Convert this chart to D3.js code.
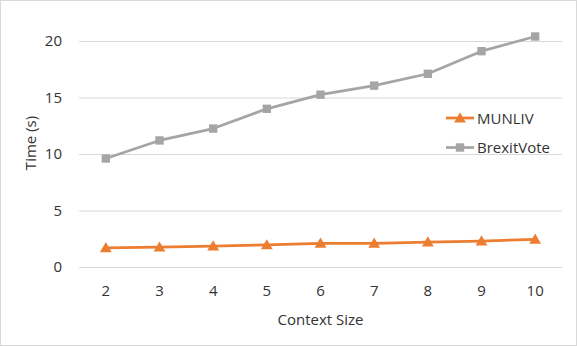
<!DOCTYPE html>
<html>
<head>
<meta charset="utf-8">
<script src="https://cdn.jsdelivr.net/npm/d3@7.9.0/dist/d3.min.js"></script>
<style>
  body { margin: 0; background: #fff; }
  svg { display: block; font-family: "Open Sans", "Noto Sans", sans-serif; }
</style>
</head>
<body>
<svg id="chart" width="577" height="346"></svg>
<script>
const contextSizes = [2, 3, 4, 5, 6, 7, 8, 9, 10];
const munliv = [1.7, 1.75, 1.85, 1.95, 2.1, 2.1, 2.2, 2.3, 2.45];
const brexitVote = [9.6, 11.2, 12.25, 14.0, 15.25, 16.05, 17.1, 19.1, 20.4];
const yTicks = [0, 5, 10, 15, 20];

const series = [
  { name: 'MUNLIV', values: munliv, color: '#ED7D31', marker: 'triangle' },
  { name: 'BrexitVote', values: brexitVote, color: '#A5A5A5', marker: 'square' }
];

const W = 577, H = 346;
const m = { left: 79, right: 15, top: 41, bottom: 79 };
const textColor = '#333';
const svg = d3.select('#chart');

svg.append('rect')
  .attr('x', 0.5).attr('y', 0.5)
  .attr('width', W - 1).attr('height', H - 1)
  .attr('fill', '#fff').attr('stroke', '#D9D9D9');

const x = d3.scaleBand()
  .domain(contextSizes)
  .range([m.left, W - m.right]);

const y = d3.scaleLinear()
  .domain([0, 20])
  .range([H - m.bottom, m.top]);

// gridlines + y labels
const yAxis = svg.append('g')
  .attr('transform', `translate(${m.left},0)`)
  .call(d3.axisLeft(y).tickValues(yTicks).tickSize(-(W - m.left - m.right)).tickPadding(17));
yAxis.select('.domain').remove();
yAxis.selectAll('.tick line').attr('stroke', '#D9D9D9').attr('stroke-width', 1);
yAxis.selectAll('.tick text').attr('fill', textColor).style('font-size', '15px')
  .style('font-family', '"Open Sans", sans-serif');

const xAxis = svg.append('g')
  .attr('transform', `translate(0,${H - m.bottom})`)
  .call(d3.axisBottom(x).tickSize(0).tickPadding(18));
xAxis.select('.domain').remove();
xAxis.selectAll('.tick text').attr('fill', textColor).style('font-size', '15px')
  .style('font-family', '"Open Sans", sans-serif');

// axis titles
svg.append('text')
  .attr('x', (m.left + W - m.right) / 2)
  .attr('y', 325)
  .attr('text-anchor', 'middle')
  .attr('fill', textColor)
  .style('font-size', '15px')
  .text('Context Size');

svg.append('text')
  .attr('transform', 'translate(36,143) rotate(-90)')
  .attr('text-anchor', 'middle')
  .attr('fill', textColor)
  .style('font-size', '15px')
  .text('Time (s)');

const cx = d => x(d) + x.bandwidth() / 2;
const line = d3.line()
  .x((v, i) => cx(contextSizes[i]))
  .y(v => y(v));

const triangle = d3.symbol().type(d3.symbolTriangle).size(60);
const square = d3.symbol().type(d3.symbolSquare).size(70);

function marker(sel, s) {
  return sel.append('path')
    .attr('d', s.marker === 'triangle' ? triangle() : square())
    .attr('fill', s.color);
}

series.forEach(s => {
  svg.append('path')
    .datum(s.values)
    .attr('d', line)
    .attr('fill', 'none')
    .attr('stroke', s.color)
    .attr('stroke-width', 2.75)
    .attr('stroke-linejoin', 'round');

  s.values.forEach((v, i) => {
    marker(svg.append('g').attr('transform', `translate(${cx(contextSizes[i])},${y(v) + (s.marker === 'triangle' ? 1 : 0)})`), s);
  });
});

// legend
const legend = svg.append('g').attr('transform', 'translate(446,118)');
series.forEach((s, i) => {
  const g = legend.append('g').attr('transform', `translate(0,${i * 29.5})`);
  g.append('line')
    .attr('x1', 0).attr('x2', 28)
    .attr('stroke', s.color).attr('stroke-width', 2.75);
  marker(g.append('g').attr('transform', `translate(14,${s.marker === 'triangle' ? 1 : 0})`), s);
  g.append('text')
    .attr('x', 31).attr('y', 5.5)
    .attr('fill', textColor)
    .style('font-size', '15px')
    .text(s.name);
});
</script>
</body>
</html>
